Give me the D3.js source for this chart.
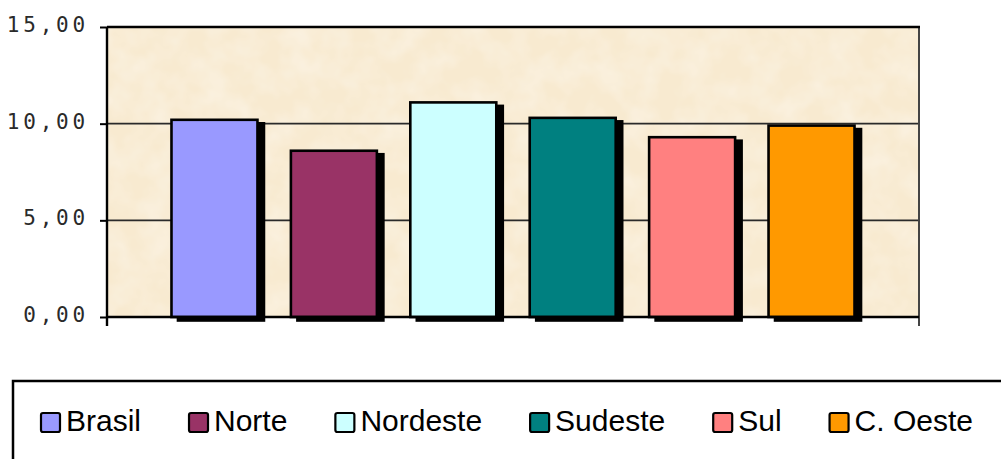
<!DOCTYPE html>
<html>
<head>
<meta charset="utf-8">
<script src="https://cdn.jsdelivr.net/npm/d3@7"></script>
<style>
  body { margin: 0; background: #fff; }
  svg { display: block; }
  .ytick text { font-family: "DejaVu Sans Mono", monospace; font-size: 21px; letter-spacing: 3.8px; fill: #2a2a2a; }
  .legend-text { font-family: "Liberation Sans", Arial, sans-serif; font-size: 30px; fill: #000; }
</style>
</head>
<body>
<svg id="chart" width="1001" height="459"></svg>
<script>
// data
const regions = ["Brasil", "Norte", "Nordeste", "Sudeste", "Sul", "C. Oeste"];
const values = [10.2, 8.6, 11.1, 10.3, 9.3, 9.9];
const colors = ["#9999FF", "#993366", "#CCFFFF", "#008080", "#FF8080", "#FF9900"];
const yTicks = [0, 5, 10, 15];

const plot = { left: 107, right: 919, top: 27, bottom: 317 };
const shadowDx = 6.5, shadowDy = 3.5;

const svg = d3.select('#chart');

// decimal comma
const ptBR = d3.formatLocale({ decimal: ",", thousands: ".", grouping: [3], currency: ["R$", ""] });
const fmt = ptBR.format(".2f");

const x = d3.scaleBand()
  .domain(regions)
  .range([plot.left, plot.right])
  .paddingInner(0.28)
  .paddingOuter(0.54);

const y = d3.scaleLinear()
  .domain([0, 15])
  .range([plot.bottom, plot.top]);

// paper texture
const defs = svg.append('defs');
const f = defs.append('filter').attr('id', 'paper')
  .attr('x', 0).attr('y', 0).attr('width', 1).attr('height', 1);
f.append('feTurbulence').attr('type', 'fractalNoise')
  .attr('baseFrequency', 0.035).attr('numOctaves', 3).attr('seed', 7);
f.append('feColorMatrix').attr('type', 'matrix')
  .attr('values', '0 0 0 0 1  0 0 0 0 1  0 0 0 0 1  0.6 0 0 0 -0.2');

svg.append('rect')
  .attr('x', plot.left).attr('y', plot.top)
  .attr('width', plot.right - plot.left).attr('height', plot.bottom - plot.top)
  .attr('fill', '#F8EAD0');
svg.append('rect')
  .attr('x', plot.left).attr('y', plot.top)
  .attr('width', plot.right - plot.left).attr('height', plot.bottom - plot.top)
  .attr('fill', '#fff')
  .attr('filter', 'url(#paper)');

// gridlines
svg.append('g')
  .selectAll('line')
  .data(yTicks.filter(d => d > 0 && d < 15))
  .join('line')
  .attr('x1', plot.left).attr('x2', plot.right)
  .attr('y1', d => y(d)).attr('y2', d => y(d))
  .attr('stroke', '#2a2a2a')
  .attr('stroke-width', 1.6);

// right + top border
svg.append('line')
  .attr('x1', plot.right).attr('x2', plot.right)
  .attr('y1', plot.top).attr('y2', plot.bottom + 9)
  .attr('stroke', '#444').attr('stroke-width', 2);
svg.append('line')
  .attr('x1', plot.left).attr('x2', plot.right + 1)
  .attr('y1', y(15)).attr('y2', y(15))
  .attr('stroke', '#000').attr('stroke-width', 2.4);

// bars with drop shadow
const bars = svg.append('g');
bars.selectAll('rect.shadow')
  .data(regions)
  .join('rect')
  .attr('class', 'shadow')
  .attr('x', d => x(d) + shadowDx)
  .attr('y', (d, i) => y(values[i]) + shadowDy)
  .attr('width', x.bandwidth())
  .attr('height', (d, i) => y(0) - y(values[i]))
  .attr('fill', '#000')
  .attr('stroke', '#000')
  .attr('stroke-width', 2.6);

bars.selectAll('rect.bar')
  .data(regions)
  .join('rect')
  .attr('class', 'bar')
  .attr('x', d => x(d))
  .attr('y', (d, i) => y(values[i]))
  .attr('width', x.bandwidth())
  .attr('height', (d, i) => y(0) - y(values[i]))
  .attr('fill', (d, i) => colors[i])
  .attr('stroke', '#000')
  .attr('stroke-width', 2.6);

// y axis
const yAxis = svg.append('g')
  .attr('class', 'ytick')
  .attr('transform', 'translate(' + plot.left + ',0)')
  .call(d3.axisLeft(y).tickValues(yTicks).tickFormat(fmt).tickSize(7).tickPadding(11));
yAxis.select('.domain').remove();
yAxis.selectAll('line').attr('stroke', '#000').attr('stroke-width', 2);
yAxis.selectAll('text').attr('dy', '0.22em');

svg.append('line')
  .attr('x1', plot.left).attr('x2', plot.left)
  .attr('y1', plot.top).attr('y2', plot.bottom + 9)
  .attr('stroke', '#000').attr('stroke-width', 2.4);

// x axis line
svg.append('line')
  .attr('x1', plot.left).attr('x2', plot.right)
  .attr('y1', y(0)).attr('y2', y(0))
  .attr('stroke', '#000').attr('stroke-width', 2.4);

// legend
const legend = svg.append('g');
legend.append('rect')
  .attr('x', 13).attr('y', 381)
  .attr('width', 1100).attr('height', 200)
  .attr('fill', '#fff')
  .attr('stroke', '#000')
  .attr('stroke-width', 2.5);

const sq = 19;
const legendGap = 48;
let lx = 41;
regions.forEach(function (name, i) {
  legend.append('rect')
    .attr('x', lx).attr('y', 413)
    .attr('width', sq).attr('height', sq)
    .attr('rx', 2)
    .attr('fill', colors[i])
    .attr('stroke', '#000')
    .attr('stroke-width', 2.2);
  const t = legend.append('text')
    .attr('class', 'legend-text')
    .attr('x', lx + sq + 6)
    .attr('y', 431)
    .text(name);
  lx = lx + sq + 6 + t.node().getComputedTextLength() + legendGap;
});
</script>
</body>
</html>
